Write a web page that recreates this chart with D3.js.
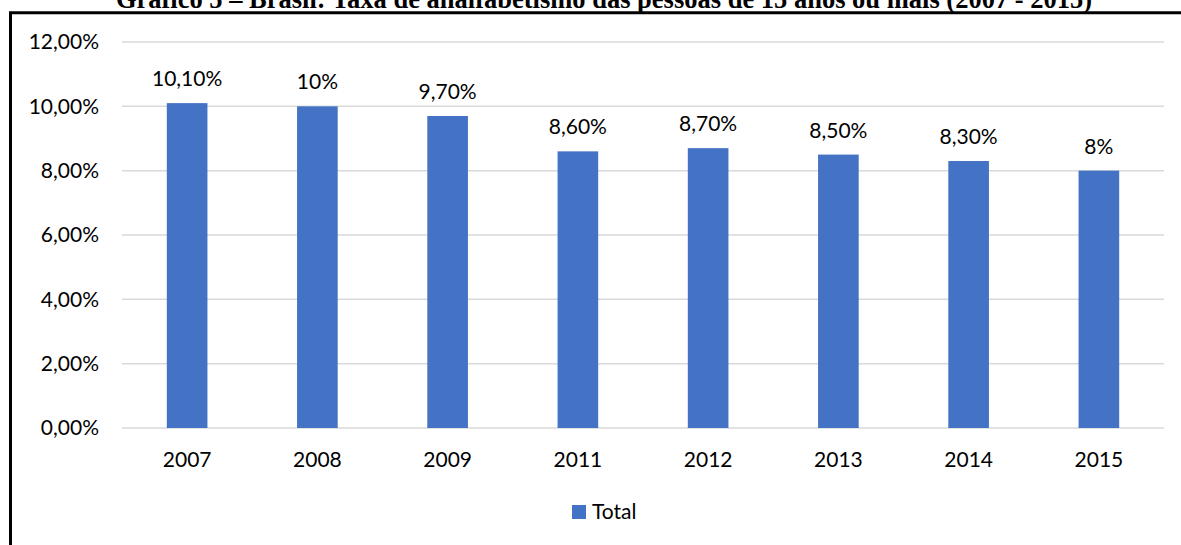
<!DOCTYPE html>
<html>
<head>
<meta charset="utf-8">
<script src="https://cdn.jsdelivr.net/npm/d3@7"></script>
<style>
  html, body { margin: 0; padding: 0; background: #fff; overflow: hidden; }
  svg { display: block; }
</style>
</head>
<body>
<div id="chart"></div>
<script>
// chart data
var years = ['2007', '2008', '2009', '2011', '2012', '2013', '2014', '2015'];
var totals = [10.1, 10.0, 9.7, 8.6, 8.7, 8.5, 8.3, 8.0];
var valueLabels = ['10,10%', '10%', '9,70%', '8,60%', '8,70%', '8,50%', '8,30%', '8%'];
var yTicks = [0, 2, 4, 6, 8, 10, 12];
var seriesName = 'Total';
var title = 'Gráfico 5 – Brasil: Taxa de analfabetismo das pessoas de 15 anos ou mais (2007 - 2015)';

var width = 1181, height = 545;
var blue = '#4472c4';
var font = 'Lato, "Open Sans", sans-serif';
var fontSize = 21;

var svg = d3.select('#chart').append('svg')
    .attr('width', width)
    .attr('height', height);

svg.append('rect')
    .attr('width', width)
    .attr('height', height)
    .attr('fill', '#fff');

// title, cut at the top as in the scan
svg.append('text')
    .attr('x', 604)
    .attr('y', 7.5)
    .attr('text-anchor', 'middle')
    .attr('font-family', '"Liberation Serif", "Times New Roman", serif')
    .attr('font-weight', 'bold')
    .attr('font-size', 26.5)
    .text(title);

// frame
svg.append('path')
    .attr('d', 'M10.5,560 L10.5,12.7 L1190,12.7')
    .attr('fill', 'none')
    .attr('stroke', '#000')
    .attr('stroke-width', 3);

var x = d3.scaleBand()
    .domain(years)
    .range([122, 1164])
    .paddingInner(0.688)
    .paddingOuter(0.344);

var y = d3.scaleLinear()
    .domain([0, 12])
    .range([428, 42]);

// gridlines
svg.append('g').selectAll('line')
    .data(yTicks)
    .enter().append('line')
    .attr('x1', 122)
    .attr('x2', 1164)
    .attr('y1', function (d) { return y(d); })
    .attr('y2', function (d) { return y(d); })
    .attr('stroke', '#d9d9d9')
    .attr('stroke-width', 1.5);

// y axis labels
var yAxis = d3.axisLeft(y)
    .tickValues(yTicks)
    .tickSize(0)
    .tickPadding(23)
    .tickFormat(function (d) { return d3.format('.2f')(d).replace('.', ',') + '%'; });

svg.append('g')
    .attr('transform', 'translate(122,0)')
    .call(yAxis)
    .call(function (g) { g.select('.domain').remove(); })
    .selectAll('text')
    .attr('font-family', font)
    .attr('font-size', fontSize)
    .attr('fill', '#000');

// bars
svg.append('g').selectAll('rect')
    .data(totals)
    .enter().append('rect')
    .attr('x', function (d, i) { return x(years[i]); })
    .attr('y', function (d) { return y(d); })
    .attr('width', x.bandwidth())
    .attr('height', function (d) { return y(0) - y(d); })
    .attr('fill', blue);

// value labels
svg.append('g').selectAll('text')
    .data(totals)
    .enter().append('text')
    .attr('x', function (d, i) { return x(years[i]) + x.bandwidth() / 2; })
    .attr('y', function (d) { return y(d) - 17; })
    .attr('text-anchor', 'middle')
    .attr('font-family', font)
    .attr('font-size', fontSize)
    .text(function (d, i) { return valueLabels[i]; });

// x axis labels
var xAxis = d3.axisBottom(x).tickSize(0);
svg.append('g')
    .attr('transform', 'translate(0,428)')
    .call(xAxis)
    .call(function (g) { g.select('.domain').remove(); })
    .selectAll('text')
    .attr('y', 38.5)
    .attr('dy', 0)
    .attr('font-family', font)
    .attr('font-size', fontSize)
    .attr('fill', '#000');

// legend
var legend = svg.append('g').attr('transform', 'translate(572,505)');
legend.append('rect')
    .attr('width', 14)
    .attr('height', 14)
    .attr('fill', blue);
legend.append('text')
    .attr('x', 20)
    .attr('y', 14)
    .attr('font-family', font)
    .attr('font-size', fontSize)
    .text(seriesName);
</script>
</body>
</html>
